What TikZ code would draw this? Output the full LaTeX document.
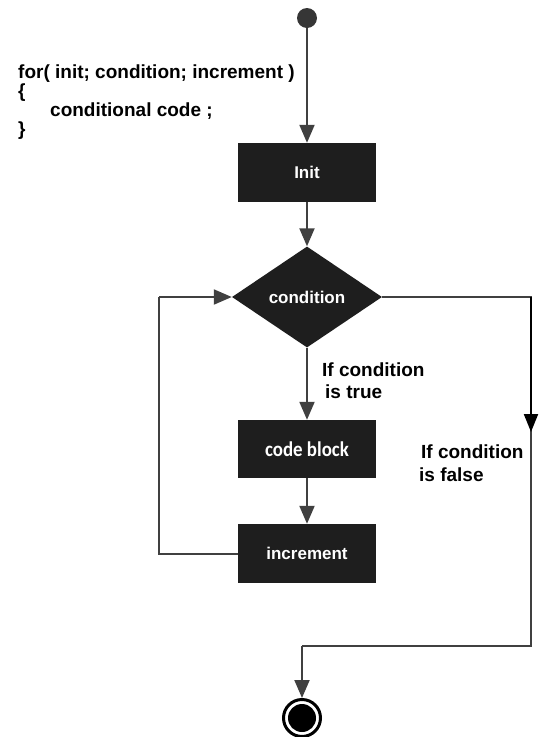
\documentclass[tikz,border=0pt]{standalone}
\usepackage{fontspec}
\setmainfont{Liberation Sans}
\newfontfamily\calib{Carlito}
\usetikzlibrary{arrows.meta,shapes.geometric}
\definecolor{boxc}{HTML}{1E1E1E}
\definecolor{linec}{HTML}{404040}
\tikzset{
  box/.style={rectangle, fill=boxc, text=white, minimum width=138pt, minimum height=58pt, inner sep=0pt,
    font=\bfseries\fontsize{17}{17}\selectfont},
  decision/.style={diamond, fill=boxc, text=white, minimum width=150pt, minimum height=101pt, inner sep=0pt, aspect=1.5,
    font=\bfseries\fontsize{17}{17}\selectfont},
  conn/.style={draw=linec, line width=2pt},
  arr/.style={conn, -{Triangle[length=18pt,width=15pt]}},
  lab/.style={anchor=base west, inner sep=0pt, font=\bfseries\fontsize{19}{19}\selectfont},
}
\begin{document}
\begin{tikzpicture}[x=1pt,y=-1pt]
\useasboundingbox (0,0) rectangle (546,737);
% code text
\node[lab] (l1) at (18,78) {for( init; condition; increment )};
\node[lab] (l2) at (18,97) {\{};
\node[lab] (l3) at (50,116) {conditional code ;};
\node[lab] (l4) at (18,135) {\}};
% nodes
\node[circle, fill=linec!85!black, minimum size=20pt, inner sep=0pt] (start) at (307,18) {};
\node[box, minimum height=59pt] (init) at (307,172.5) {Init};
\node[decision] (cond) at (307,297) {condition};
\node[box] (code) at (307,449) {\calib\bfseries\fontsize{21}{21}\selectfont\scalebox{0.9}[1]{code block}};
\node[box, minimum height=59pt] (inc) at (307,553.5) {increment};
\node[circle, draw=black, line width=3pt, fill=white, minimum size=37pt, inner sep=0pt,
  path picture={\fill[black] (path picture bounding box.center) circle (14pt);}] (stop) at (302,718) {};
% labels
\node[lab] (t1) at (322,376) {If condition};
\node[lab] (t2) at (325,398) {is true};
\node[lab] (f1) at (421,458) {If condition};
\node[lab] (f2) at (419,481) {is false};
% connectors
\draw[arr] (start) -- (init);
\draw[arr] (init) -- (cond);
\draw[arr] (cond) -- (code);
\draw[arr] (code) -- (inc);
\coordinate (lb) at (159,553.5);
\coordinate (lt) at (159,297);
\draw[conn] (inc.west) -- (lb) -- (lt);
\draw[arr] (lt) -- (cond.west);
\coordinate (rt) at (531,297);
\coordinate (ra) at (531,432);
\coordinate (rb) at (531,646);
\coordinate (bb) at (302,646);
\draw[conn] (cond.east) -- (rt) -- (ra);
\draw[conn, -{Triangle[length=18pt,width=14pt]}, draw=black] (rt) -- (ra);
\draw[conn] (ra) -- (rb) -- (bb);
\draw[arr] (bb) -- (stop);
\end{tikzpicture}
\end{document}
